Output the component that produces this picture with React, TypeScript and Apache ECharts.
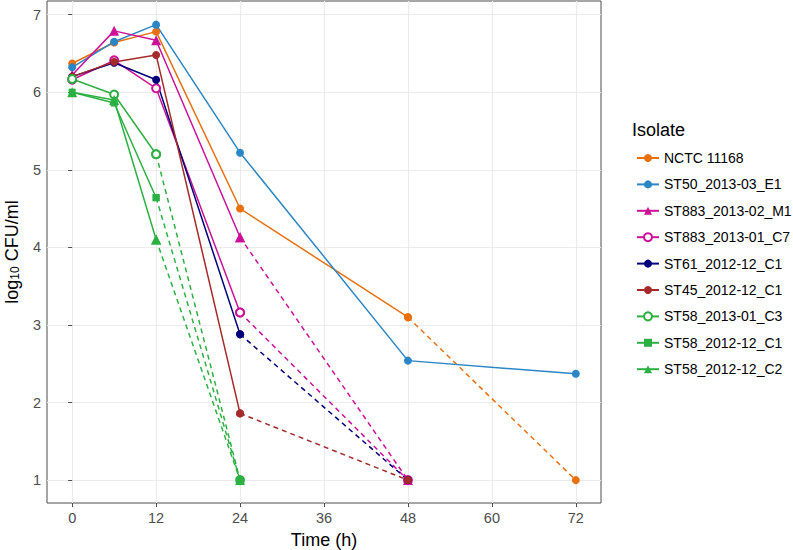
import React, { useEffect, useRef } from "react";
import * as echarts from "echarts";

const times = [0, 6, 12, 24, 48, 72];
const xTicks = [0, 12, 24, 36, 48, 60, 72];
const yTicks = [1, 2, 3, 4, 5, 6, 7];

const isolates = [
  "NCTC 11168",
  "ST50_2013-03_E1",
  "ST883_2013-02_M1",
  "ST883_2013-01_C7",
  "ST61_2012-12_C1",
  "ST45_2012-12_C1",
  "ST58_2013-01_C3",
  "ST58_2012-12_C1",
  "ST58_2012-12_C2",
];
const colors = ["#E8700F", "#2B86C6", "#CC1199", "#CC1199", "#00007A", "#A52A2A", "#2DB043", "#2DB043", "#2DB043"];
const symbols = ["circle", "circle", "triangle", "emptyCircle", "circle", "circle", "emptyCircle", "rect", "triangle"];

// measured values (solid lines), null = not measured / below detection
const nctc = [6.37, 6.64, 6.78, 4.5, 3.1, null];
const st50 = [6.32, 6.65, 6.87, 5.22, 2.54, 2.37];
const st883m1 = [6.22, 6.79, 6.67, 4.13, null, null];
const st883c7 = [6.16, 6.41, 6.05, 3.16, null, null];
const st61 = [6.2, 6.38, 6.16, 2.88, null, null];
const st45 = [6.2, 6.39, 6.48, 1.86, null, null];
const st58c3 = [6.17, 5.97, 5.2, null, null, null];
const st58c1 = [6.0, 5.86, 4.64, null, null, null];
const st58c2 = [6.0, 5.9, 4.1, null, null, null];

// dashed segments down to the detection limit
const nctcLod = [null, null, null, null, 3.1, 1];
const st50Lod = [null, null, null, null, null, null];
const st883m1Lod = [null, null, null, 4.13, 1, null];
const st883c7Lod = [null, null, null, 3.16, 1, null];
const st61Lod = [null, null, null, 2.88, 1, null];
const st45Lod = [null, null, null, 1.86, 1, null];
const st58c3Lod = [null, null, 5.2, 1, null, null];
const st58c1Lod = [null, null, 4.64, 1, null, null];
const st58c2Lod = [null, null, 4.1, 1, null, null];

const measured = [nctc, st50, st883m1, st883c7, st61, st45, st58c3, st58c1, st58c2];
const lod = [nctcLod, st50Lod, st883m1Lod, st883c7Lod, st61Lod, st45Lod, st58c3Lod, st58c1Lod, st58c2Lod];

const toPairs = (vals: (number | null)[]) =>
  times.map((t, i) => [t, vals[i]] as [number, number | null]).filter((p) => p[1] !== null);

const symSize = (s: string) => (s === "triangle" ? 10 : s === "rect" ? 7 : 8);

export default function App() {
  const ref = useRef<HTMLDivElement>(null);
  useEffect(() => {
    document.body.style.margin = "0";
    const chart = echarts.init(ref.current!, null, { renderer: "svg" });
    const series: any[] = [];
    isolates.forEach((name, i) => {
      const lodPts = toPairs(lod[i]);
      if (lodPts.length) {
        series.push({
          name: name + " (LOD)",
          type: "line",
          data: lodPts,
          symbol: symbols[i],
          symbolSize: symSize(symbols[i]),
          color: colors[i],
          lineStyle: { color: colors[i], width: 1.5, type: [5, 4] },
          itemStyle: { color: colors[i], borderWidth: 1.3 },
          z: 2,
        });
      }
    });
    isolates.forEach((name, i) => {
      series.push({
        name,
        type: "line",
        data: toPairs(measured[i]),
        symbol: symbols[i],
        symbolSize: symSize(symbols[i]),
        color: colors[i],
        lineStyle: { color: colors[i], width: 1.5 },
        itemStyle: { color: colors[i], borderWidth: 1.3 },
        z: 3,
      });
    });
    chart.setOption({
      animation: false,
      backgroundColor: "#ffffff",
      textStyle: { fontFamily: "Liberation Sans, Arial, sans-serif" },
      grid: {
        left: 47,
        right: 192,
        top: 1,
        bottom: 47,
        outerBoundsMode: "none",
        containLabel: false,
        show: true,
        borderColor: "#4d4d4d",
        borderWidth: 1,
        backgroundColor: "transparent",
      },
      xAxis: {
        type: "value",
        min: -3.6,
        max: 75.6,
        name: "Time (h)",
        nameLocation: "middle",
        nameGap: 28,
        nameTextStyle: { fontSize: 18, color: "#000" },
        axisLine: { show: false },
        axisTick: { show: true, length: 4, customValues: xTicks, lineStyle: { color: "#4d4d4d" } },
        axisLabel: { customValues: xTicks, fontSize: 14.5, color: "#4d4d4d", margin: 7 },
        splitLine: { show: true, lineStyle: { color: "#ebebeb", width: 1.2 } },
      },
      yAxis: {
        type: "value",
        min: 0.705,
        max: 7.175,
        name: "log{sub|10} CFU/ml",
        nameLocation: "middle",
        nameGap: 26,
        nameTextStyle: {
          fontSize: 18,
          color: "#000",
          rich: { sub: { fontSize: 12, color: "#000", padding: [7, 0, 0, 0] } },
        },
        axisLine: { show: false },
        axisTick: { show: true, length: 4, customValues: yTicks, lineStyle: { color: "#4d4d4d" } },
        axisLabel: { customValues: yTicks, fontSize: 14.5, color: "#4d4d4d", margin: 6 },
        splitLine: { show: true, lineStyle: { color: "#ebebeb", width: 1.2 } },
      },
      legend: {
        data: isolates,
        orient: "vertical",
        left: 631,
        top: 145,
        itemWidth: 22,
        itemHeight: 10,
        itemGap: 10.4,
        textStyle: { fontSize: 14, color: "#000", lineHeight: 16 },
        selectedMode: false,
      },
      graphic: [
        {
          type: "text",
          left: 632,
          top: 121,
          style: { text: "Isolate", fontSize: 18, fill: "#000", fontFamily: "Liberation Sans, Arial, sans-serif" },
        },
      ],
      series,
    });
    return () => chart.dispose();
  }, []);
  return <div ref={ref} style={{ width: 793, height: 550 }} />;
}
